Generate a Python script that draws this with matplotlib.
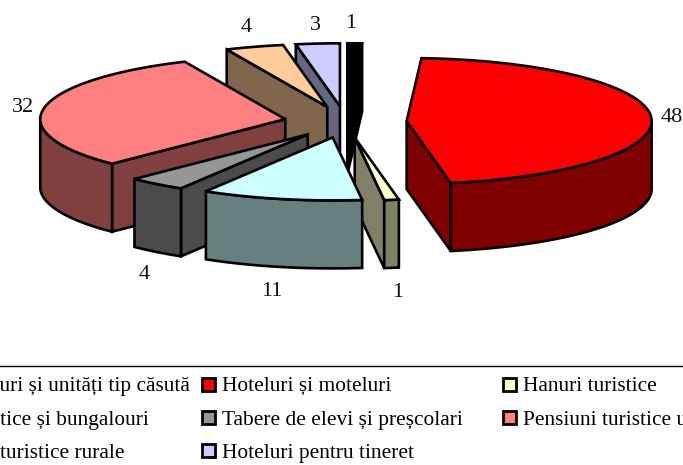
import numpy as np
import matplotlib
matplotlib.use('Agg')
import matplotlib.pyplot as plt
from matplotlib.patches import Polygon, Rectangle

# valori, in ordinea din grafic (sensul acelor de ceasornic, de sus)
categorii = ['Campinguri și unități tip căsută', 'Hoteluri și moteluri', 'Hanuri turistice',
             'Vile turistice și bungalouri', 'Tabere de elevi și preșcolari', 'Pensiuni turistice urbane',
             'Pensiuni turistice rurale', 'Hoteluri pentru tineret']
valori = [1, 48, 1, 11, 4, 32, 4, 3]
culori = ['#000000', '#FF0000', '#FFFFCC', '#CCFFFF', '#969696', '#FF8080', '#FFCC99', '#CCCCFF']
laturi = ['#000000', '#800000', '#808066', '#668080', '#4B4B4B', '#804040', '#80664D', '#666680']

# ordinea de desenare, din spate in fata
ordine = [1, 7, 0, 6, 5, 4, 2, 3]

# geometria in pixeli
CX, CY = 345.5, 122
A, B = 245, 63
EXPLODE = 0.25
H = 68
LW = 1.9

# pozitiile etichetelor si ale legendei
pozitii_etichete = [(351, 24), (672, 117), (398, 292), (272, 291), (144, 274), (23, 107), (246, 28), (315, 26)]
legenda_x = [-79, 221.5, 523]
legenda_y = [384, 417.5, 450.5]

plt.rcParams['font.family'] = ['Liberation Serif', 'DejaVu Serif']

fig = plt.figure(figsize=(6.83, 4.65), dpi=100)
ax = fig.add_axes([0, 0, 1, 1])
ax.set_xlim(0, 683)
ax.set_ylim(465, 0)
ax.axis('off')


def punct(c, t):
    return np.array([c[0] + A * np.sin(t), c[1] - B * np.cos(t)])


def fata(puncte, culoare, z):
    ax.add_patch(Polygon(puncte, closed=True, facecolor=culoare, edgecolor='black',
                         linewidth=LW, joinstyle='miter', zorder=z))


cum = np.cumsum([0] + valori) / sum(valori) * 2 * np.pi

for z, i in enumerate(ordine):
    t0, t1 = cum[i], cum[i + 1]
    tm = (t0 + t1) / 2
    c = (CX + EXPLODE * A * np.sin(tm), CY - EXPLODE * B * np.cos(tm))
    jos = np.array([0, H])
    baza = z * 10

    # fetele radiale vizibile
    for t, vizibil in ((t0, np.sin(t0) < -1e-9), (t1, np.sin(t1) > 1e-9)):
        if vizibil:
            p = punct(c, t)
            fata([c, p, p + jos, np.array(c) + jos], laturi[i], baza + 1)

    # fata exterioara, doar partea de jos a elipsei
    a0, a1 = max(t0, np.pi / 2), min(t1, 3 * np.pi / 2)
    if a1 > a0:
        arc = [punct(c, t) for t in np.linspace(a0, a1, 60)]
        fata(arc + [p + jos for p in arc[::-1]], laturi[i], baza + 2)

    # fata de sus
    arc = [punct(c, t) for t in np.linspace(t0, t1, 120)]
    fata([c] + arc, culori[i], baza + 3)

for v, (x, y) in zip(valori, pozitii_etichete):
    ax.text(x, y, str(v), fontsize=16, ha='center', va='center', color='#111111', zorder=200)

# legenda, taiata de marginile figurii ca in original
ax.plot([0, 683], [366, 366], color='black', lw=1, zorder=200, clip_on=True)
for k, nume in enumerate(categorii):
    lin, col = k // 3, k % 3
    x, y = legenda_x[col], legenda_y[lin]
    ax.add_patch(Rectangle((x - 20, y - 6.5), 13, 13, facecolor=culori[k], edgecolor='black', lw=2, zorder=200))
    ax.text(x, y + 7, nume, fontsize=15.4, ha='left', va='baseline', color='black', zorder=200)

fig.savefig('out.png', dpi=100)
